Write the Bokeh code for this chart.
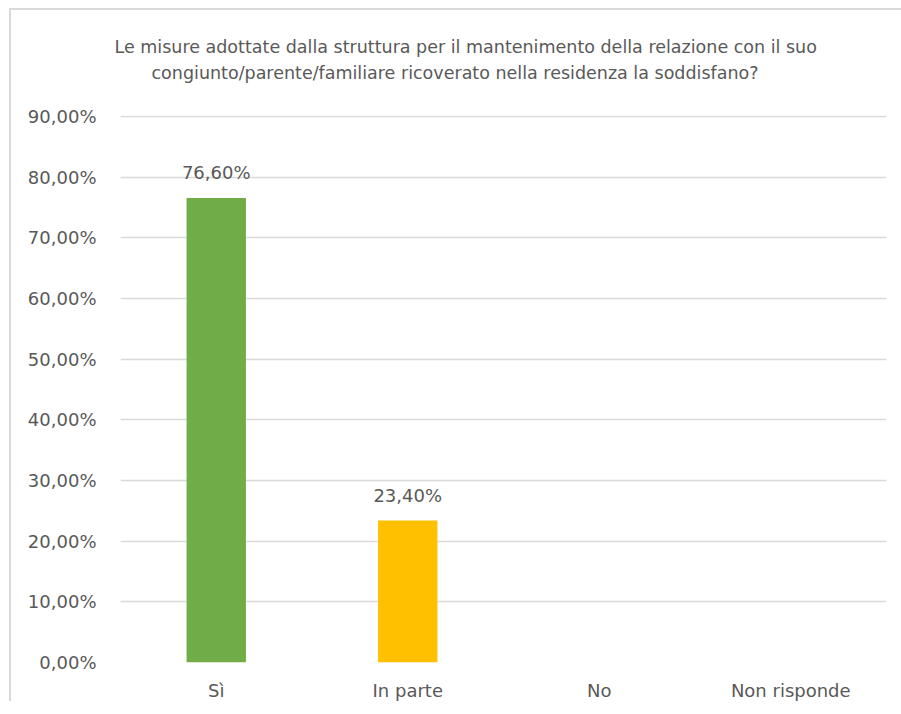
from bokeh.plotting import figure
from bokeh.models import ColumnDataSource, Range1d, CustomJSTickFormatter, FixedTicker, LabelSet, Title
from bokeh.core.properties import value
from bokeh.embed import file_html
from bokeh.resources import INLINE

categories = ["Sì", "In parte", "No", "Non risponde"]
values = [76.60, 23.40, 0.0, 0.0]
colors = ["#70AD47", "#FFC000", "#5B9BD5", "#A5A5A5"]
labels = ["76,60%", "23,40%", "", ""]
yticks = [0, 10, 20, 30, 40, 50, 60, 70, 80, 90]
title_lines = ["Le misure adottate dalla struttura per il mantenimento della relazione con il suo",
               "congiunto/parente/familiare ricoverato nella residenza la soddisfano?"]

FONT = "DejaVu Sans"
TXT = "#595959"

src = ColumnDataSource(dict(cat=categories, val=values, col=colors, lab=labels))

p = figure(x_range=categories, y_range=Range1d(0, 90.2), width=893, height=693,
           output_backend="svg", toolbar_location=None, title=None,
           min_border_left=109, min_border_right=18, min_border_top=105, min_border_bottom=40)

p.vbar(x="cat", top="val", width=0.31, fill_color="col", line_color=None, source=src)

p.add_layout(LabelSet(x="cat", y="val", text="lab", source=src, text_align="center",
                      text_baseline="bottom", y_offset=15, text_font=value(FONT),
                      text_font_size="18px", text_color=TXT))

title_offsets = [-6, 31]
title_standoffs = [-56, 65]
for line, off, so in reversed(list(zip(title_lines, title_offsets, title_standoffs))):
    p.add_layout(Title(text=line, align="left", offset=off, text_font=FONT,
                       text_font_size="17.5px", text_font_style="normal",
                       text_color=TXT, standoff=so), "above")

p.yaxis.ticker = FixedTicker(ticks=yticks)
p.yaxis.formatter = CustomJSTickFormatter(code="return tick.toFixed(2).replace('.', ',') + '%';")
p.yaxis.axis_line_color = None
p.yaxis.major_tick_line_color = None
p.yaxis.minor_tick_line_color = None
p.yaxis.major_label_text_font = FONT
p.yaxis.major_label_text_font_size = "18px"
p.yaxis.major_label_text_color = TXT
p.yaxis.major_label_standoff = 18

p.xaxis.axis_line_color = None
p.xaxis.major_tick_line_color = None
p.xaxis.minor_tick_line_color = None
p.xaxis.major_label_text_font = FONT
p.xaxis.major_label_text_font_size = "18px"
p.xaxis.major_label_text_color = TXT
p.xaxis.major_label_standoff = 11

p.xgrid.grid_line_color = None
p.ygrid.grid_line_color = "#d9d9d9"
p.ygrid.grid_line_width = 1.5
p.outline_line_color = None
p.styles = {"border-top": "2px solid #d9d9d9", "border-left": "2px solid #d9d9d9",
            "border-right": "none", "border-bottom": "none",
            "margin-left": "9px", "margin-top": "8px"}

open("out.html", "w").write(file_html(p, INLINE))
